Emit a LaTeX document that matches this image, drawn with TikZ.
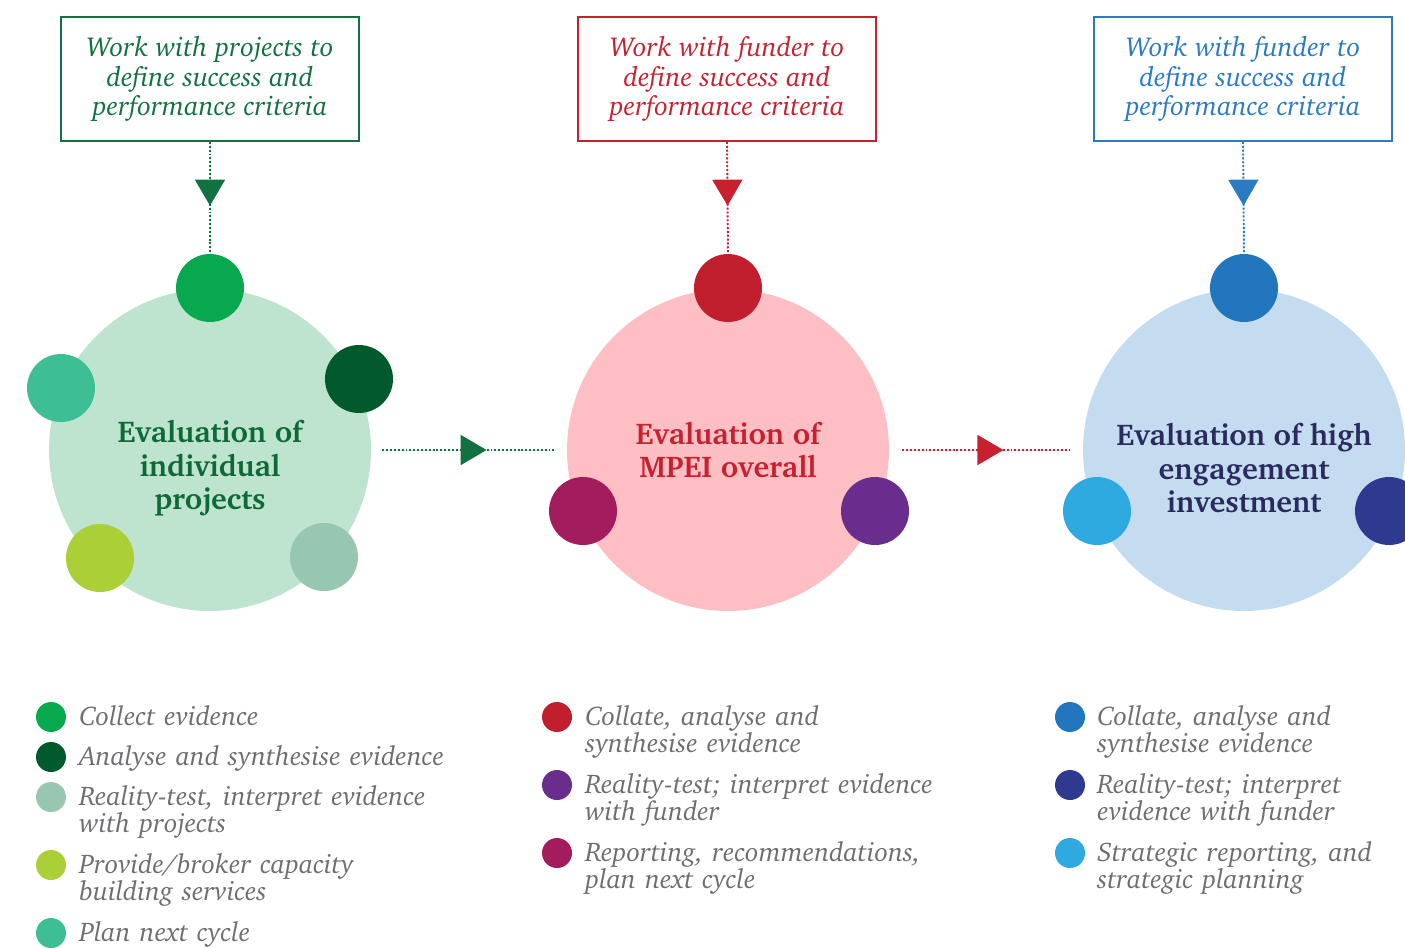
\documentclass[tikz,border=0pt]{standalone}
\usepackage[T1]{fontenc}
\usepackage{charter}
\usepackage{tikz}
\usetikzlibrary{arrows.meta}
\usetikzlibrary{decorations.markings}
\usetikzlibrary{positioning}

\definecolor{projgreen}{HTML}{127140}
\definecolor{projtitle}{HTML}{0D6A37}
\definecolor{projdisc}{HTML}{BEE3CE}
\definecolor{gA}{HTML}{08A84E}
\definecolor{gB}{HTML}{005A2B}
\definecolor{gC}{HTML}{98C7B1}
\definecolor{gD}{HTML}{ABCF37}
\definecolor{gE}{HTML}{3DBE94}
\definecolor{fundred}{HTML}{C9202F}
\definecolor{funddisc}{HTML}{FDBFC4}
\definecolor{rA}{HTML}{C21F2E}
\definecolor{rB}{HTML}{692D8E}
\definecolor{rC}{HTML}{A31C5E}
\definecolor{invblue}{HTML}{2A7AC4}
\definecolor{invtitle}{HTML}{2A2A5E}
\definecolor{invdisc}{HTML}{C4DCEF}
\definecolor{bA}{HTML}{2276BD}
\definecolor{bB}{HTML}{2E3A8F}
\definecolor{bC}{HTML}{2EAAE1}
\definecolor{legendgrey}{HTML}{6D6E71}

\tikzstyle{every node}+=[inner sep=0pt]
\tikzstyle{critbox}=[draw, line width=1.1pt, minimum width=5.96cm, minimum height=2.48cm,
  align=center, font=\itshape\fontsize{15.6}{16.8}\selectfont,
  execute at begin node={\rule{0pt}{0.53cm}}]
\tikzstyle{bigdisc}=[circle, minimum size=6.44cm]
\tikzstyle{stepdisc}=[circle, minimum size=1.36cm]
\tikzstyle{legdot}=[circle, minimum size=0.6cm]
\tikzstyle{legtext}=[anchor=base west, text width=9cm, align=left, text=legendgrey,
  font=\itshape\fontsize{15.4}{15.9}\selectfont]
\tikzstyle{disctitle}=[align=center, font=\bfseries\fontsize{17.1}{19}\selectfont]
\tikzset{flow/.style={draw=#1, line width=1.1pt, dash pattern=on 1.1pt off 1.1pt,
    postaction={decorate}},
  tip at/.style={decoration={markings, mark=at position #1 with
    {\arrow[solid]{Triangle[length=0.52cm,width=0.6cm]}}}}}

\begin{document}
\begin{tikzpicture}[x=0.02cm,y=-0.02cm]
  \useasboundingbox (0,0) rectangle (1405,947);

  % projects
  \node[critbox, draw=projgreen, text=projgreen] (projbox) at (210,79)
    {Work with projects to\\define success and\\performance criteria};
  \node[bigdisc, fill=projdisc] (projdisc) at (210,450) {};
  \node[stepdisc, fill=gA] (projA) at (210,288) {};
  \node[stepdisc, fill=gB] (projB) at (359,379) {};
  \node[stepdisc, fill=gC] (projC) at (324,557) {};
  \node[stepdisc, fill=gD] (projD) at (100,558) {};
  \node[stepdisc, fill=gE] (projE) at (61,388) {};
  \node[disctitle, text=projtitle] (projtitle) at (210,468)
    {Evaluation of\\individual\\projects};
  \draw[flow=projgreen, tip at=0.57, fill=projgreen] (projbox.south) -- (projA.north);

  % funder
  \node[critbox, draw=fundred, text=fundred] (fundbox) at (727,79)
    {Work with funder to\\define success and\\performance criteria};
  \node[bigdisc, fill=funddisc] (funddisc) at (728,450) {};
  \node[stepdisc, fill=rA] (fundA) at (728,288) {};
  \node[stepdisc, fill=rB] (fundB) at (875,511) {};
  \node[stepdisc, fill=rC] (fundC) at (583,511) {};
  \node[disctitle, text=fundred] (fundtitle) at (728,450)
    {Evaluation of\\MPEI overall};
  \draw[flow=fundred, tip at=0.57, fill=fundred] (fundbox.south) -- (fundA.north);

  % investment
  \node[critbox, draw=invblue, text=invblue] (invbox) at (1243,79)
    {Work with funder to\\define success and\\performance criteria};
  \node[bigdisc, fill=invdisc] (invdisc) at (1244,450) {};
  \node[stepdisc, fill=bA] (invA) at (1244,288) {};
  \node[stepdisc, fill=bB] (invB) at (1389,511) {};
  \node[stepdisc, fill=bC] (invC) at (1097,511) {};
  \node[disctitle, text=invtitle] (invtitle) at (1244,468)
    {Evaluation of high\\engagement\\investment};
  \draw[flow=invblue, tip at=0.57, fill=invblue] (invbox.south) -- (invA.north);

  % links between stages
  \draw[flow=projgreen, tip at=0.59, fill=projgreen, shorten <=0.22cm, shorten >=0.22cm]
    (projdisc.east) -- (funddisc.west);
  \draw[flow=fundred, tip at=0.59, fill=fundred, shorten <=0.26cm, shorten >=0.22cm]
    (funddisc.east) -- (invdisc.west);

  % legend
  \node[legdot, fill=gA] (legA) at (51,717) {};
  \node[legtext] at (79,725) {Collect evidence};
  \node[legdot, fill=gB] (legB) at (51,757) {};
  \node[legtext] at (79,765) {Analyse and synthesise evidence};
  \node[legdot, fill=gC] (legC) at (51,797) {};
  \node[legtext] at (79,805) {Reality-test, interpret evidence\\with projects};
  \node[legdot, fill=gD] (legD) at (51,865) {};
  \node[legtext] at (79,873) {Provide/broker capacity\\building services};
  \node[legdot, fill=gE] (legE) at (51,933) {};
  \node[legtext] at (79,941) {Plan next cycle};

  \node[legdot, fill=rA] (legF) at (557,717) {};
  \node[legtext] at (585,725) {Collate, analyse and\\synthesise evidence};
  \node[legdot, fill=rB] (legG) at (557,785) {};
  \node[legtext] at (585,793) {Reality-test; interpret evidence\\with funder};
  \node[legdot, fill=rC] (legH) at (557,853) {};
  \node[legtext] at (585,861) {Reporting, recommendations,\\plan next cycle};

  \node[legdot, fill=bA] (legI) at (1070,717) {};
  \node[legtext] at (1097,725) {Collate, analyse and\\synthesise evidence};
  \node[legdot, fill=bB] (legJ) at (1070,785) {};
  \node[legtext] at (1097,793) {Reality-test; interpret\\evidence with funder};
  \node[legdot, fill=bC] (legK) at (1070,853) {};
  \node[legtext] at (1097,861) {Strategic reporting, and\\strategic planning};
\end{tikzpicture}
\end{document}
